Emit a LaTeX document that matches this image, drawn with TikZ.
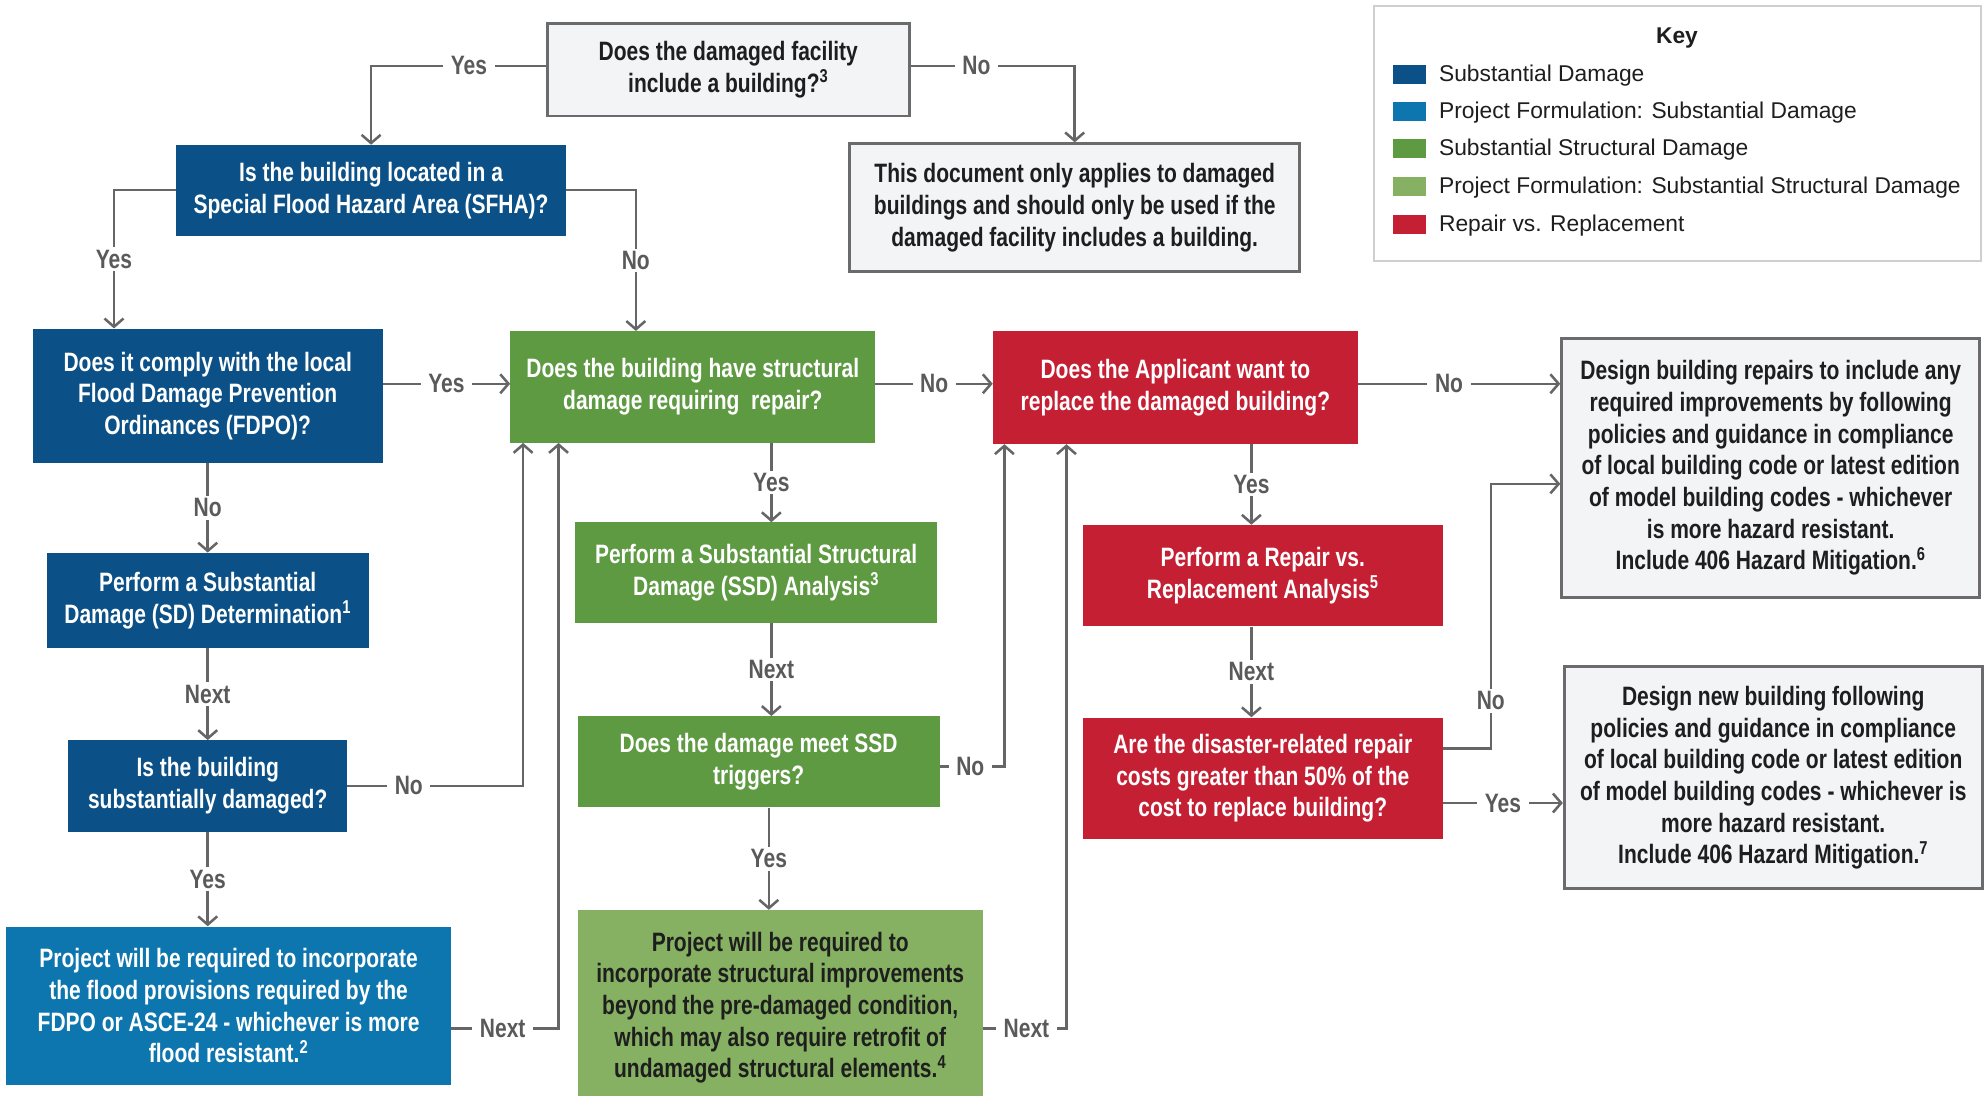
\documentclass[tikz,border=0pt]{standalone}
\usepackage{fontspec}
\setmainfont{Liberation Sans}
\newfontfamily\condf[FakeStretch=0.79]{Liberation Sans}
\newfontfamily\keyf{Liberation Sans}
\usetikzlibrary{arrows.meta}
\definecolor{sdblue}{HTML}{0B5086}
\definecolor{pfblue}{HTML}{0E76AE}
\definecolor{ssdgreen}{HTML}{5E9A42}
\definecolor{pfgreen}{HTML}{86B162}
\definecolor{rvred}{HTML}{C41F33}
\definecolor{grayfill}{HTML}{F3F4F6}
\definecolor{grayline}{HTML}{6B6B6D}
\definecolor{connc}{HTML}{666666}
\definecolor{lbltext}{HTML}{5A5A5A}
\definecolor{darktext}{HTML}{1E1E1E}
\definecolor{keyline}{HTML}{CFCFCF}
\tikzset{
  box/.style={rectangle, align=center, inner sep=0pt, font=\condf\bfseries\fontsize{21}{25}\selectfont},
  bluebox/.style={box, fill=sdblue, text=white},
  pfbluebox/.style={box, fill=pfblue, text=white},
  greenbox/.style={box, fill=ssdgreen, text=white},
  pfgreenbox/.style={box, fill=pfgreen, text=darktext},
  redbox/.style={box, fill=rvred, text=white},
  graybox/.style={box, fill=grayfill, draw=grayline, line width=2.2pt, text=darktext},
  keybox/.style={rectangle, draw=keyline, fill=white, line width=1.8pt, inner sep=0pt},
  swatch/.style={rectangle, inner sep=0pt, minimum width=26pt, minimum height=15pt},
  keytext/.style={anchor=west, inner sep=0pt, font=\keyf\fontsize{18}{22}\selectfont, text=darktext},
  cline/.style={draw=connc, line width=2pt},
  arr/.style={cline, -{Straight Barb[length=6.5pt,width=15pt]}},
  lbl/.style={fill=white, text=lbltext, inner xsep=6pt, inner ysep=2pt, font=\condf\bfseries\fontsize{21}{24}\selectfont},
}
\begin{document}
\begin{tikzpicture}[x=1pt,y=-1pt]
\useasboundingbox (0,0) rectangle (1568,865);
% column / row helper coordinates
\coordinate (c90) at (90,0);
\coordinate (c502) at (502,0);
\coordinate (c413) at (413,0);
\coordinate (c441) at (441,0);
\coordinate (c609) at (609,0);
\coordinate (c607) at (607,0);
\coordinate (c793) at (793,0);
\coordinate (c842) at (842,0);
\coordinate (c988) at (988,0);
\coordinate (c1177) at (1177,0);
\coordinate (r303) at (0,303);
\coordinate (r605) at (0,605);
\coordinate (r812) at (0,812);
\coordinate (r591) at (0,591);
\coordinate (r634) at (0,634);
\coordinate (r382) at (0,382);

% nodes
\node[graybox, minimum width=286pt, minimum height=73pt] (t1) at (575,55)
  {Does the damaged facility\\include a building?\textsuperscript{3}};
\node[graybox, minimum width=355pt, minimum height=101pt] (n1) at (848.5,164)
  {This document only applies to damaged\\buildings and should only be used if the\\damaged facility includes a building.};
\node[bluebox, minimum width=308pt, minimum height=72pt] (b1) at (293,150.5)
  {Is the building located in a\\Special Flood Hazard Area (SFHA)?};
\node[bluebox, minimum width=276pt, minimum height=106pt] (b2) at (164,312.5)
  {Does it comply with the local\\Flood Damage Prevention\\Ordinances (FDPO)?};
\node[greenbox, minimum width=288pt, minimum height=88pt] (g1) at (547,305.5)
  {Does the building have structural\\damage requiring~ repair?};
\node[redbox, minimum width=288pt, minimum height=89pt] (r1) at (928,306)
  {Does the Applicant want to\\replace the damaged building?};
\node[graybox, minimum width=330pt, minimum height=204pt] (w1) at (1398,369.5)
  {Design building repairs to include any\\required improvements by following\\policies and guidance in compliance\\of local building code or latest edition\\of model building codes - whichever\\is more hazard resistant.\\Include 406 Hazard Mitigation.\textsuperscript{6}};
\node[bluebox, minimum width=254pt, minimum height=75pt] (b3) at (164,474)
  {Perform a Substantial\\Damage (SD) Determination\textsuperscript{1}};
\node[bluebox, minimum width=220pt, minimum height=72pt] (b4) at (164,620.5)
  {Is the building\\substantially damaged?};
\node[pfbluebox, minimum width=351pt, minimum height=125pt] (b5) at (180.5,794)
  {Project will be required to incorporate\\the flood provisions required by the\\FDPO or ASCE-24 - whichever is more\\flood resistant.\textsuperscript{2}};
\node[greenbox, minimum width=286pt, minimum height=79pt] (g2) at (597,452)
  {Perform a Substantial Structural\\Damage (SSD) Analysis\textsuperscript{3}};
\node[greenbox, minimum width=286pt, minimum height=72pt] (g3) at (599,601.5)
  {Does the damage meet SSD\\triggers?};
\node[pfgreenbox, minimum width=320pt, minimum height=154pt] (g4) at (616,795.5)
  {Project will be required to\\incorporate structural improvements\\beyond the pre-damaged condition,\\which may also require retrofit of\\undamaged structural elements.\textsuperscript{4}};
\node[redbox, minimum width=284pt, minimum height=80pt] (r2) at (997,454.5)
  {Perform a Repair vs.\\Replacement Analysis\textsuperscript{5}};
\node[redbox, minimum width=284pt, minimum height=96pt] (r3) at (997,614.5)
  {Are the disaster-related repair\\costs greater than 50\% of the\\cost to replace building?};
\node[graybox, minimum width=330pt, minimum height=175pt] (w2) at (1400,614)
  {Design new building following\\policies and guidance in compliance\\of local building code or latest edition\\of model building codes - whichever is\\more hazard resistant.\\Include 406 Hazard Mitigation.\textsuperscript{7}};

% key
\node[keybox, minimum width=479pt, minimum height=201pt] (key) at (1324.5,105.5) {};
\node[font=\keyf\bfseries\fontsize{18}{22}\selectfont, text=darktext] (keyt) at (1324,30) {Key};
\node[swatch, fill=sdblue] (k1) at (1113,59) {};
\node[swatch, fill=pfblue] (k2) at (1113,88) {};
\node[swatch, fill=ssdgreen] (k3) at (1113,117) {};
\node[swatch, fill=pfgreen] (k4) at (1113,147) {};
\node[swatch, fill=rvred] (k5) at (1113,177) {};
\node[keytext] (kt1) at (1136,60) {Substantial Damage};
\node[keytext] (kt2) at (1136,89) {Project Formulation: Substantial Damage};
\node[keytext] (kt3) at (1136,118) {Substantial Structural Damage};
\node[keytext] (kt4) at (1136,148) {Project Formulation: Substantial Structural Damage};
\node[keytext] (kt5) at (1136,178) {Repair vs. Replacement};

% connectors
\draw[arr] (t1.west |- 0,52) -| node[lbl,pos=0.22]{Yes} (b1.north);
\draw[arr] (t1.east |- 0,52) -| node[lbl,pos=0.2]{No} (n1.north);
\draw[arr] (b1.west |- 0,150) -| node[lbl,pos=0.75]{Yes} (b2.north -| c90);
\draw[arr] (b1.east |- 0,150) -| node[lbl,pos=0.75]{No} (g1.north -| c502);
\draw[arr] (b2.east |- r303) -- node[lbl]{Yes} (g1.west |- r303);
\draw[arr] (g1.east |- r303) -- node[lbl]{No} (r1.west |- r303);
\draw[arr] (r1.east |- r303) -- node[lbl,pos=0.45]{No} (w1.west |- r303);
\draw[arr] (b2.south) -- node[lbl]{No} (b3.north);
\draw[arr] (b3.south) -- node[lbl]{Next} (b4.north);
\draw[arr] (b4.east) -| node[lbl,pos=0.175]{No} (g1.south -| c413);
\draw[arr] (b4.south) -- node[lbl]{Yes} (b5.north -| b4.south);
\draw[arr] (b5.east |- r812) -| node[lbl,pos=0.24]{Next} (g1.south -| c441);
\draw[arr] (g1.south -| c609) -- node[lbl]{Yes} (g2.north -| c609);
\draw[arr] (g2.south -| c609) -- node[lbl]{Next} (g3.north -| c609);
\draw[arr] (g3.east |- r605) -| node[lbl,pos=0.235]{No} (r1.south -| c793);
\draw[arr] (g3.south -| c607) -- node[lbl]{Yes} (g4.north -| c607);
\draw[arr] (g4.east |- r812) -| node[lbl,pos=0.26]{Next} (r1.south -| c842);
\draw[arr] (r1.south -| c988) -- node[lbl]{Yes} (r2.north -| c988);
\draw[arr] (r2.south -| c988) -- node[lbl]{Next} (r3.north -| c988);
\draw[arr] (r3.east |- r591) -| node[lbl,pos=0.59]{No} (c1177 |- r382) -- (w1.west |- r382);
\draw[arr] (r3.east |- r634) -- node[lbl]{Yes} (w2.west |- r634);
\end{tikzpicture}
\end{document}
